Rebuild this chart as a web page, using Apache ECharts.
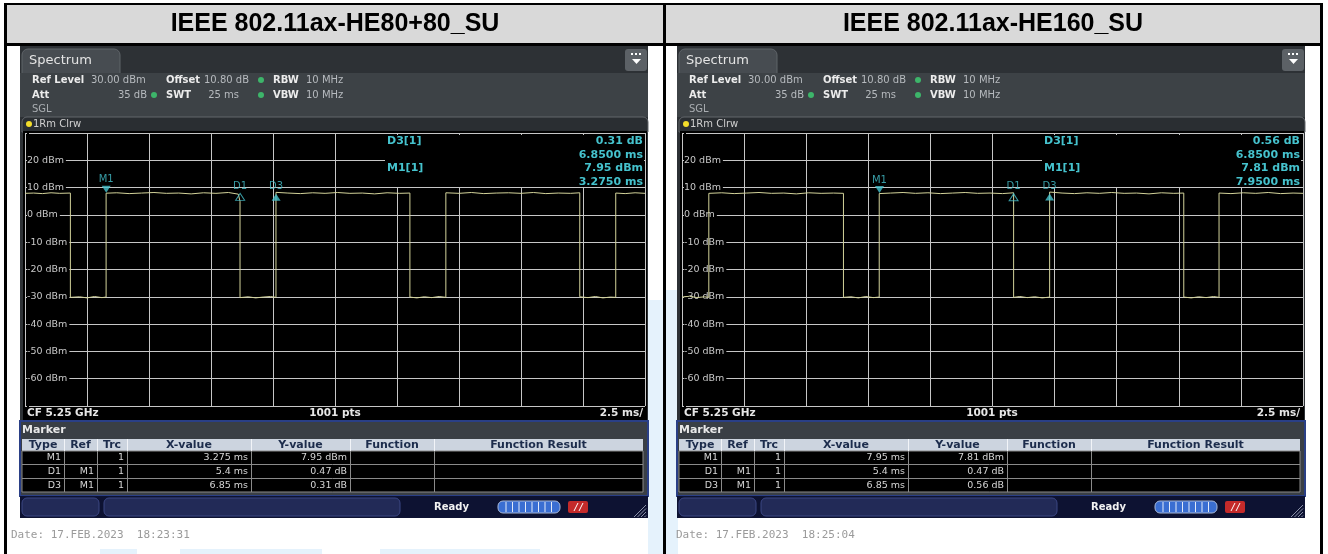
<!DOCTYPE html>
<html>
<head>
<meta charset="utf-8">
<script src="https://cdn.jsdelivr.net/npm/echarts@6/dist/echarts.min.js"></script>
<style>
html, body { margin: 0; padding: 0; background: #fff; }
#chart { width: 1328px; height: 554px; }
</style>
</head>
<body>
<div id="chart"></div>
<script>
// two spectrum analyzer screenshots (burst timing, 2.5 ms/div)
var titles = ['IEEE 802.11ax-HE80+80_SU', 'IEEE 802.11ax-HE160_SU'];
var yTicks = [30, 20, 10, 0, -10, -20, -30, -40, -50, -60, -70];

// trace points [ms, dBm]
var leftTrace = [
  [0, 7.9], [0.35, 8.0], [0.7, 7.8], [1.05, 8.1], [1.4, 7.9], [1.83, 8.0],
  [1.83, -30.2], [2.2, -30.0], [2.5, -30.4], [2.8, -29.9], [3.1, -30.3], [3.27, -30.1],
  [3.27, 7.95], [3.7, 8.1], [4.2, 7.8], [4.7, 8.0], [5.2, 8.2], [5.7, 7.9], [6.2, 8.0], [6.7, 7.7], [7.2, 8.1], [7.7, 7.9], [8.2, 8.2], [8.6, 7.6], [8.67, 5.0],
  [8.67, -30.3], [9.0, -30.0], [9.3, -30.4], [9.6, -30.1], [9.9, -29.9], [10.12, -30.2],
  [10.12, 8.26], [10.6, 8.0], [11.1, 7.8], [11.6, 8.1], [12.1, 7.9], [12.6, 8.2], [13.1, 7.9], [13.6, 8.0], [14.1, 7.7], [14.6, 8.1], [15.1, 7.9], [15.52, 8.0],
  [15.52, -30.1], [15.8, -30.4], [16.1, -30.0], [16.4, -30.3], [16.7, -29.9], [16.97, -30.2],
  [16.97, 8.1], [17.5, 7.9], [18.0, 8.2], [18.5, 7.8], [19.0, 8.0], [19.5, 8.1], [20.0, 7.9], [20.5, 8.2], [21.0, 7.8], [21.5, 8.0], [22.0, 7.9], [22.37, 8.1],
  [22.37, -30.0], [22.7, -30.3], [23.0, -29.9], [23.3, -30.4], [23.6, -30.1], [23.82, -30.2],
  [23.82, 8.0], [24.2, 7.8], [24.6, 8.1], [25, 7.9]
];
var rightTrace = [
  [0, -30.1], [0.3, -29.8], [0.6, -30.3], [0.9, -30.0], [1.08, -30.2],
  [1.08, 7.9], [1.6, 8.1], [2.1, 7.8], [2.6, 8.0], [3.1, 8.2], [3.6, 7.9], [4.1, 8.0], [4.6, 7.7], [5.1, 8.1], [5.6, 7.9], [6.1, 8.0], [6.5, 7.9],
  [6.5, -30.2], [6.8, -30.0], [7.1, -30.4], [7.4, -29.9], [7.7, -30.3], [7.94, -30.1],
  [7.94, 7.81], [8.4, 8.0], [8.9, 8.2], [9.4, 7.9], [9.9, 8.1], [10.4, 7.8], [10.9, 8.0], [11.4, 8.2], [11.9, 7.9], [12.4, 8.0], [12.9, 7.8], [13.35, 8.1],
  [13.35, -30.2], [13.6, -29.9], [13.9, -30.3], [14.2, -30.0], [14.5, -30.4], [14.8, -30.1],
  [14.8, 8.37], [15.3, 8.0], [15.8, 7.8], [16.3, 8.1], [16.8, 7.9], [17.3, 8.2], [17.8, 7.9], [18.3, 8.0], [18.8, 7.7], [19.3, 8.1], [19.8, 7.9], [20.2, 8.0],
  [20.2, -30.1], [20.5, -30.4], [20.8, -30.0], [21.1, -30.3], [21.4, -29.9], [21.62, -30.2],
  [21.62, 8.0], [22.1, 7.8], [22.6, 8.1], [23.1, 7.9], [23.6, 8.2], [24.1, 7.8], [24.6, 8.0], [25, 7.9]
];

var markerNames = ['M1', 'D1', 'D3'];
var leftMarkerTime = [3.275, 8.675, 10.125];
var leftMarkerLevel = [7.95, 8.42, 8.26];
var rightMarkerTime = [7.95, 13.35, 14.8];
var rightMarkerLevel = [7.81, 8.28, 8.37];

var leftReadout = ['0.31 dB', '6.8500 ms', '7.95 dBm', '3.2750 ms'];
var rightReadout = ['0.56 dB', '6.8500 ms', '7.81 dBm', '7.9500 ms'];

var tableHead = ['Type', 'Ref', 'Trc', 'X-value', 'Y-value', 'Function', 'Function Result'];
var leftTable = [
  ['M1', '', '1', '3.275 ms', '7.95 dBm'],
  ['D1', 'M1', '1', '5.4 ms', '0.47 dB'],
  ['D3', 'M1', '1', '6.85 ms', '0.31 dB']
];
var rightTable = [
  ['M1', '', '1', '7.95 ms', '7.81 dBm'],
  ['D1', 'M1', '1', '5.4 ms', '0.47 dB'],
  ['D3', 'M1', '1', '6.85 ms', '0.56 dB']
];
var dates = ['Date: 17.FEB.2023  18:23:31', 'Date: 17.FEB.2023  18:25:04'];

var SANS = '"DejaVu Sans", Verdana, sans-serif';
var CYAN = '#45c2cd';
var GRIDC = '#c6c6c6';

var dom = document.getElementById('chart');
var myChart = echarts.init(dom, null, { renderer: 'canvas' });

function T(x, y, s, size, color, o) {
  o = o || {};
  var al = o.align || 'left';
  return {
    type: 'text', x: x, y: y, z: o.z == null ? 0 : o.z, silent: true,
    style: {
      text: s, font: (o.bold ? 'bold ' : '') + size + 'px ' + (o.family || SANS), fill: color,
      textAlign: al, align: al, textVerticalAlign: 'middle', verticalAlign: 'middle'
    }
  };
}
function R(x, y, w, h, fill, o) {
  o = o || {};
  return {
    type: 'rect', z: o.z == null ? -1 : o.z, silent: true,
    shape: { x: x, y: y, width: w, height: h, r: o.r || 0 },
    style: { fill: fill, stroke: o.stroke || null, lineWidth: o.lw || 1 }
  };
}
function L(x1, y1, x2, y2, color, z) {
  return { type: 'line', z: z == null ? 0 : z, silent: true, shape: { x1: x1, y1: y1, x2: x2, y2: y2 }, style: { stroke: color, lineWidth: 1 } };
}
function dot(x, y, r, color) {
  return { type: 'circle', z: 0, silent: true, shape: { cx: x, cy: y, r: r }, style: { fill: color } };
}

// analyzer screen chrome around one grid, o = horizontal offset
function panel(o, readout, table, date, dateX) {
  var e = [];
  var lab = '#ececec', val = '#b6babe';
  e.push(R(o + 20, 46, 628, 472, '#2d3135', { z: -2 }));
  e.push(R(o + 22, 49, 98, 25, '#474c51', { r: [6, 6, 0, 0], stroke: '#5f6469' }));
  e.push(R(o + 20, 73, 628, 44, '#3d4246'));
  e.push(T(o + 29, 61, 'Spectrum', 13, '#e4e4e4'));
  // menu button
  e.push(R(o + 625, 49, 22, 22, '#5c6166', { r: 3, z: 0 }));
  e.push(R(o + 631, 53, 2, 2, '#fff', { z: 1 }), R(o + 635, 53, 2, 2, '#fff', { z: 1 }), R(o + 639, 53, 2, 2, '#fff', { z: 1 }));
  e.push({ type: 'polygon', z: 1, silent: true, shape: { points: [[o + 632, 59], [o + 641, 59], [o + 636.5, 64]] }, style: { fill: '#fff' } });
  // settings
  e.push(T(o + 32, 80, 'Ref Level', 10, lab, { bold: 1 }), T(o + 91, 80, '30.00 dBm', 10, val));
  e.push(T(o + 166, 80, 'Offset', 10, lab, { bold: 1 }), T(o + 204, 80, '10.80 dB', 10, val));
  e.push(dot(o + 261, 80, 3, '#3db56a'), T(o + 273, 80, 'RBW', 10, lab, { bold: 1 }), T(o + 306, 80, '10 MHz', 10, val));
  e.push(T(o + 32, 95, 'Att', 10, lab, { bold: 1 }), T(o + 147, 95, '35 dB', 10, val, { align: 'right' }));
  e.push(dot(o + 154, 95, 3, '#3db56a'), T(o + 166, 95, 'SWT', 10, lab, { bold: 1 }), T(o + 239, 95, '25 ms', 10, val, { align: 'right' }));
  e.push(dot(o + 261, 95, 3, '#3db56a'), T(o + 273, 95, 'VBW', 10, lab, { bold: 1 }), T(o + 306, 95, '10 MHz', 10, val));
  e.push(T(o + 32, 109, 'SGL', 10, '#a9adb1'));
  // trace bar
  e.push(R(o + 22, 117, 626, 15, '#2a2e32', { r: [5, 5, 0, 0], stroke: '#62666b' }));
  e.push(dot(o + 29, 124, 3, '#f3dd2b'), T(o + 33, 124, '1Rm Clrw', 10, '#d0d0d0'));
  // black diagram area incl. bottom strip
  e.push(R(o + 23, 131, 624, 290, '#000'));
  // marker readout box
  e.push(R(o + 385, 135, 259, 52, '#000', { z: 1 }));
  e.push(T(o + 387, 141, 'D3[1]', 11, CYAN, { bold: 1, z: 2 }), T(o + 387, 168, 'M1[1]', 11, CYAN, { bold: 1, z: 2 }));
  [141, 155, 168, 182].forEach(function (y, i) {
    e.push(T(o + 643, y, readout[i], 11, CYAN, { bold: 1, z: 2, align: 'right' }));
  });
  e.push(T(o + 27, 413, 'CF 5.25 GHz', 10.5, '#e6e6e6', { bold: 1 }));
  e.push(T(o + 335, 413, '1001 pts', 10.5, '#e6e6e6', { bold: 1, align: 'center' }));
  e.push(T(o + 643, 413, '2.5 ms/', 10.5, '#e6e6e6', { bold: 1, align: 'right' }));
  // marker table
  e.push(R(o + 20, 421, 628, 75, '#3a3f45', { stroke: '#2a3f86', lw: 2 }));
  e.push(T(o + 22, 430, 'Marker', 11, '#e8e8e8', { bold: 1 }));
  var cols = [22, 64, 97, 127, 251, 350, 434, 643];
  e.push(R(o + 22, 439, 621, 12, '#ccd4df', { z: 0 }));
  e.push(R(o + 22, 451, 621, 41, '#000', { z: 0, stroke: '#8a8a8a' }));
  e.push(L(o + 22, 464.5, o + 643, 464.5, '#8a8a8a', 1), L(o + 22, 478.5, o + 643, 478.5, '#8a8a8a', 1));
  for (var c = 1; c < cols.length - 1; c++) {
    e.push(L(o + cols[c] + 0.5, 439, o + cols[c] + 0.5, 451, '#f2f4f8', 1));
    e.push(L(o + cols[c] + 0.5, 451, o + cols[c] + 0.5, 492, '#8a8a8a', 1));
  }
  tableHead.forEach(function (h, i) {
    e.push(T(o + (cols[i] + cols[i + 1]) / 2, 445, h, 11, '#1c2c4c', { bold: 1, align: 'center', z: 2 }));
  });
  table.forEach(function (row, r) {
    row.forEach(function (s, i) {
      e.push(T(o + cols[i + 1] - 3, 458 + r * 14, s, 9.5, '#d6d6d6', { align: 'right', z: 2 }));
    });
  });
  // status bar
  e.push(R(o + 20, 496, 628, 22, '#0d1232'));
  e.push(R(o + 22, 498, 77, 18, '#222a57', { r: 5, stroke: '#3b4683', z: 0 }));
  e.push(R(o + 104, 498, 296, 18, '#222a57', { r: 5, stroke: '#3b4683', z: 0 }));
  e.push(T(o + 434, 507, 'Ready', 10, '#f2f2f2', { bold: 1 }));
  e.push(R(o + 498, 501, 62, 12, '#3a6ed2', { r: 5, stroke: '#a8b8d8', z: 0 }));
  for (var k = 1; k < 9; k++) e.push(L(o + 499.5 + k * 6.5, 502, o + 499.5 + k * 6.5, 512, '#e2eaf8', 1));
  e.push(R(o + 568, 501, 20, 12, '#c42a2a', { r: 2, z: 0 }));
  e.push(L(o + 574, 511, o + 578, 503, '#fff', 1), L(o + 579, 511, o + 583, 503, '#fff', 1));
  for (var h = 0; h < 4; h++) e.push(L(o + 634 + h * 3.5, 517, o + 646, 505 + h * 3.5, '#8a90a8', 1));
  e.push(T(dateX, 535, date, 11, '#9a9a9a', { family: '"DejaVu Sans Mono", monospace' }));
  return e;
}

var elements = [];
// faint watermark shapes behind the table
var wm = '#e5f2fc';
elements.push(R(648, 300, 15, 254, wm, { z: -3 }), R(666, 290, 12, 264, wm, { z: -3 }));
elements.push(R(100, 549, 37, 5, wm, { z: -3 }), R(180, 549, 142, 5, wm, { z: -3 }), R(380, 549, 160, 5, wm, { z: -3 }));
// table frame and header
elements.push(R(7, 5, 1313, 38, '#d9d9d9', { z: -2 }));
elements.push(R(4, 3, 1319, 2, '#000', { z: 0 }), R(4, 43, 1319, 3, '#000', { z: 0 }));
elements.push(R(4, 3, 3, 551, '#000', { z: 0 }), R(663, 3, 3, 551, '#000', { z: 0 }), R(1320, 3, 3, 551, '#000', { z: 0 }));
elements.push(T(335, 24, titles[0], 25, '#000', { bold: 1, align: 'center', family: '"Liberation Sans", Arial, sans-serif' }));
elements.push(T(993, 24, titles[1], 25, '#000', { bold: 1, align: 'center', family: '"Liberation Sans", Arial, sans-serif' }));
elements = elements.concat(panel(0, leftReadout, leftTable, dates[0], 11));
elements = elements.concat(panel(657, rightReadout, rightTable, dates[1], 676));

function xAx(i) {
  return {
    type: 'value', gridIndex: i, min: 0, max: 25, interval: 2.5,
    axisLine: { show: false }, axisTick: { show: false }, axisLabel: { show: false },
    splitLine: { show: true, lineStyle: { color: GRIDC, width: 1 } }
  };
}
function yAx(i) {
  return {
    type: 'value', gridIndex: i, min: yTicks[yTicks.length - 1], max: yTicks[0], interval: 10,
    axisLine: { show: false }, axisTick: { show: false },
    axisLabel: {
      inside: true, margin: 2, color: '#c8c8c8', fontSize: 9.5, fontFamily: SANS,
      backgroundColor: '#000', padding: [1, 2, 1, 0],
      formatter: function (v) { return (v === yTicks[0] || v === yTicks[yTicks.length - 1]) ? '' : v + ' dBm'; }
    },
    splitLine: { show: true, lineStyle: { color: GRIDC, width: 1 } }
  };
}
function traceSeries(i, data) {
  return {
    type: 'line', xAxisIndex: i, yAxisIndex: i, data: data, symbol: 'none', showSymbol: false,
    lineStyle: { color: '#d3d39a', width: 1 }, z: 2
  };
}
function markerSeries(i, times, levels) {
  return {
    type: 'scatter', xAxisIndex: i, yAxisIndex: i, z: 3, symbolSize: [9, 7],
    data: markerNames.map(function (n, k) {
      var down = n.charAt(0) === 'M';
      return {
        name: n, value: [times[k], levels[k]],
        symbol: down ? 'path://M0,0L10,0L5,8Z' : 'path://M5,0L10,8L0,8Z',
        symbolOffset: [0, down ? -4 : 5],
        itemStyle: n === 'D1' ? { color: 'rgba(0,0,0,0)', borderColor: CYAN, borderWidth: 1 } : { color: CYAN },
        label: { distance: down ? 1 : 2 }
      };
    }),
    label: { show: true, position: 'top', formatter: '{b}', color: CYAN, fontSize: 10, fontFamily: SANS }
  };
}

var option = {
  backgroundColor: '#ffffff',
  animation: false,
  grid: [
    { left: 25, top: 133, width: 620, height: 273, show: false },
    { left: 682, top: 133, width: 621, height: 273, show: false }
  ],
  xAxis: [xAx(0), xAx(1)],
  yAxis: [yAx(0), yAx(1)],
  series: [
    traceSeries(0, leftTrace),
    traceSeries(1, rightTrace),
    markerSeries(0, leftMarkerTime, leftMarkerLevel),
    markerSeries(1, rightMarkerTime, rightMarkerLevel)
  ],
  graphic: { elements: elements }
};

if (option && typeof option === 'object') {
  myChart.setOption(option, true);
}
</script>
</body>
</html>
